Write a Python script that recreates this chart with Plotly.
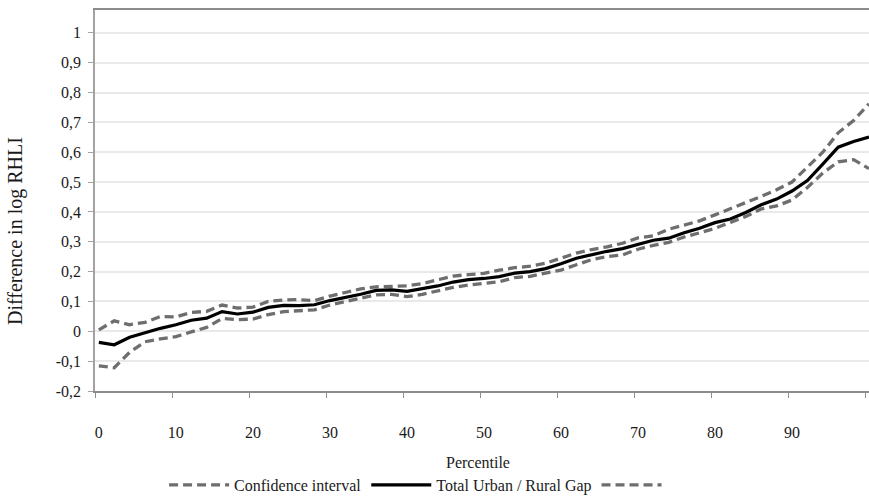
import plotly.graph_objects as go

# ---- data ----
percentile = list(range(0, 101, 2))

total_gap = [
    -0.037, -0.045, -0.020, -0.005, 0.010, 0.022, 0.037, 0.044, 0.066, 0.058,
    0.064, 0.080, 0.087, 0.086, 0.089, 0.103, 0.113, 0.124, 0.137, 0.139,
    0.134, 0.142, 0.152, 0.165, 0.173, 0.177, 0.183, 0.195, 0.200, 0.210,
    0.226, 0.245, 0.257, 0.268, 0.277, 0.290, 0.305, 0.312, 0.330, 0.345,
    0.364, 0.376, 0.398, 0.424, 0.443, 0.470, 0.505, 0.560, 0.617, 0.636,
    0.651,
]

ci_upper = [
    0.005, 0.035, 0.022, 0.030, 0.050, 0.048, 0.063, 0.067, 0.088, 0.078,
    0.081, 0.100, 0.105, 0.106, 0.103, 0.118, 0.130, 0.142, 0.149, 0.150,
    0.152, 0.160, 0.172, 0.185, 0.190, 0.194, 0.205, 0.213, 0.218, 0.228,
    0.245, 0.262, 0.274, 0.283, 0.295, 0.313, 0.320, 0.342, 0.356, 0.370,
    0.390, 0.410, 0.432, 0.452, 0.474, 0.500, 0.550, 0.600, 0.665, 0.706,
    0.762,
]

ci_lower = [
    -0.116, -0.122, -0.070, -0.035, -0.025, -0.018, -0.002, 0.013, 0.043, 0.039,
    0.041, 0.056, 0.066, 0.070, 0.072, 0.088, 0.100, 0.111, 0.122, 0.124,
    0.116, 0.124, 0.136, 0.147, 0.155, 0.160, 0.166, 0.180, 0.184, 0.195,
    0.205, 0.223, 0.240, 0.250, 0.256, 0.275, 0.288, 0.298, 0.316, 0.330,
    0.345, 0.365, 0.385, 0.410, 0.420, 0.440, 0.482, 0.530, 0.568, 0.575,
    0.545,
]

y_tick_vals = [-0.2, -0.1, 0, 0.1, 0.2, 0.3, 0.4, 0.5, 0.6, 0.7, 0.8, 0.9, 1.0]
y_tick_text = ["-0,2", "-0,1", "0", "0,1", "0,2", "0,3", "0,4", "0,5",
               "0,6", "0,7", "0,8", "0,9", "1"]
x_tick_vals = [0, 10, 20, 30, 40, 50, 60, 70, 80, 90]
x_tick_text = ["0", "10", "20", "30", "40", "50", "60", "70", "80", "90"]
x_tick_marks = [-0.5, 9.5, 19.5, 29.5, 39.5, 49.5, 59.5, 69.5, 79.5, 89.5, 99.5]

# ---- styles ----
FONT = "Liberation Serif, Times New Roman, serif"
TXT = "#1a1a1a"
DASH_COLOR = "#6e6e6e"
AXIS_COLOR = "#a3a3a3"

fig = go.Figure()
fig.add_trace(go.Scatter(
    x=percentile, y=ci_upper, mode="lines", name="Confidence interval",
    line=dict(color=DASH_COLOR, width=3.3, dash="9px,5px"),
))
fig.add_trace(go.Scatter(
    x=percentile, y=total_gap, mode="lines", name="Total Urban / Rural Gap",
    line=dict(color="#000000", width=3.2),
))
fig.add_trace(go.Scatter(
    x=percentile, y=ci_lower, mode="lines", name=" ",
    line=dict(color=DASH_COLOR, width=3.3, dash="9px,5px"),
))

fig.update_layout(
    width=869, height=502, autosize=False,
    margin=dict(l=95, r=0, t=10, b=99),
    paper_bgcolor="white", plot_bgcolor="white",
    font=dict(family=FONT, size=16, color=TXT),
    showlegend=True,
    legend=dict(
        orientation="h", x=0.42, xanchor="center", y=-0.247, yanchor="middle",
        font=dict(family=FONT, size=16, color=TXT),
        itemwidth=60, tracegroupgap=0, bgcolor="rgba(0,0,0,0)",
    ),
    annotations=[
        dict(text="Difference in log RHLI", xref="paper", yref="paper",
             x=-0.102, y=0.42, textangle=-90, showarrow=False,
             xanchor="center", yanchor="middle",
             font=dict(family=FONT, size=20, color=TXT)),
        dict(text="Percentile", xref="paper", yref="paper",
             x=0.495, y=-0.188, showarrow=False,
             xanchor="center", yanchor="middle",
             font=dict(family=FONT, size=16, color=TXT)),
    ],
)

fig.update_xaxes(
    range=[-0.5, 100], showgrid=False, zeroline=False,
    showline=True, linecolor="#8c8c8c", linewidth=1.5, mirror=True,
    tickmode="array", tickvals=x_tick_vals, ticktext=x_tick_text,
    ticks="", ticklabelstandoff=26,
    tickfont=dict(family=FONT, size=16, color=TXT),
    minor=dict(tickmode="array", tickvals=x_tick_marks, ticks="outside",
               ticklen=5, tickcolor="#8c8c8c", tickwidth=1, showgrid=False),
)
fig.update_yaxes(
    range=[-0.2, 1.0764], zeroline=False,
    showgrid=True, gridcolor="#e9e9e9", gridwidth=1.5,
    showline=True, linecolor=AXIS_COLOR, linewidth=1.5,
    tickmode="array", tickvals=y_tick_vals, ticktext=y_tick_text,
    ticks="outside", ticklen=5, tickcolor=AXIS_COLOR, tickwidth=1,
    ticklabelstandoff=4,
    tickfont=dict(family=FONT, size=16, color=TXT),
)

fig.write_html(
    "out.html",
    config={"displayModeBar": False},
    post_script="document.body.style.margin='0px';document.body.style.overflow='hidden';",
)
